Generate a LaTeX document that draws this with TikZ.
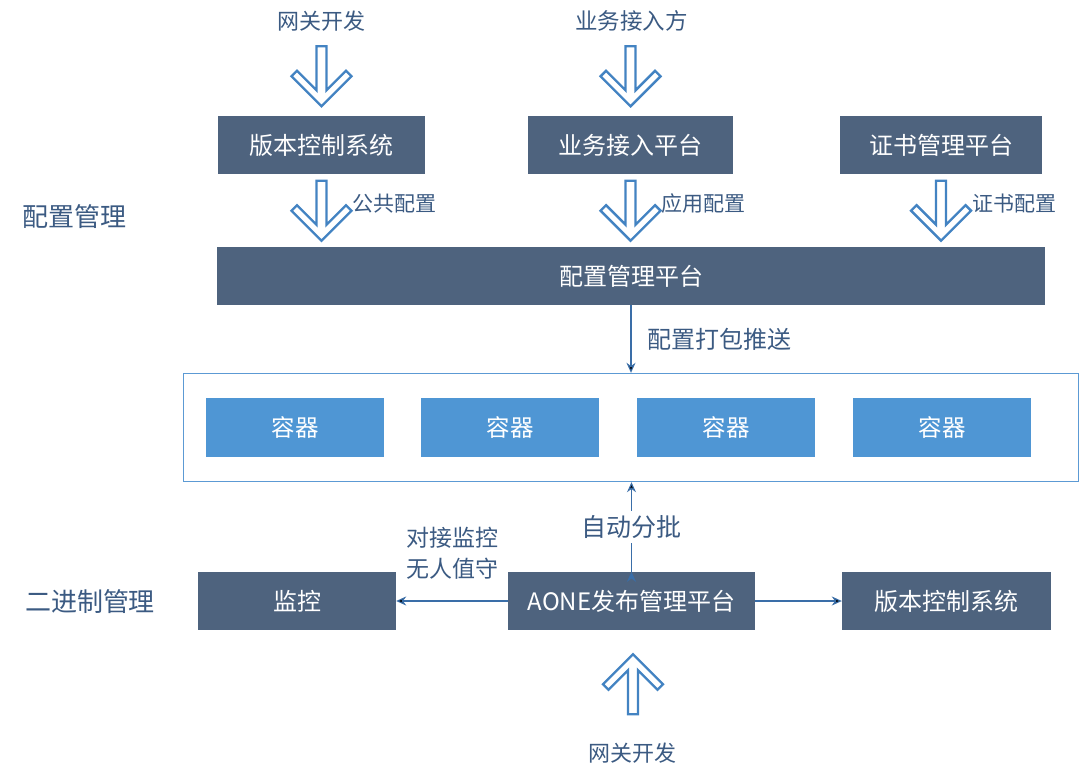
\documentclass[tikz,border=0pt]{standalone}
\usepackage{fontspec}
\setmainfont{Noto Sans CJK SC}
\usetikzlibrary{calc}
\usetikzlibrary{arrows.meta}
\definecolor{platdark}{HTML}{4E637E}
\definecolor{podblue}{HTML}{4F96D4}
\definecolor{frameblue}{HTML}{5C9AD4}
\definecolor{linkblue}{HTML}{3A6EA8}
\definecolor{hollowblue}{HTML}{4383C2}
\definecolor{lbltext}{HTML}{3B5A82}
\tikzset{hollowdown/.pic={
    \draw[draw=hollowblue, line width=2.4pt, line join=miter]
      (-5,-30) -- (-5,14) -- (-24.5,-5.5) -- (-30,0) -- (0,30)
      -- (30,0) -- (24.5,-5.5) -- (5,14) -- (5,-30) -- cycle;}}
\begin{document}
\begin{tikzpicture}[x=1pt,y=-1pt,
    plat/.style={fill=platdark, text=white, inner sep=0pt, minimum height=57pt,
      font=\fontsize{24}{24}\selectfont},
    pod/.style={fill=podblue, text=white, inner sep=0pt, minimum width=178pt,
      minimum height=59pt, font=\fontsize{23.5}{23.5}\selectfont},
    lbl/.style={text=lbltext, inner sep=0pt, font=\fontsize{22}{22}\selectfont},
    small/.style={font=\fontsize{21}{21}\selectfont},
    link/.style={draw=linkblue, line width=1.1pt, -{Stealth[length=10pt,width=9pt]}}]
  \useasboundingbox (0,0) rectangle (1080,776);

  % top row
  \node[plat, minimum width=207pt] (vcsTop) at (321.5,145) {版本控制系统};
  \node[plat, minimum width=205pt] (bizPlat) at (630.5,145) {业务接入平台};
  \node[plat, minimum width=202pt] (certPlat) at (941,145) {证书管理平台};
  \node[plat, minimum width=828pt, minimum height=58pt] (cfgPlat) at (631,276) {配置管理平台};

  \node[lbl] (gwTop) at ($(vcsTop.north)+(0,-95)$) {网关开发};
  \node[lbl, font=\fontsize{22.5}{22.5}\selectfont] (bizSrc) at ($(bizPlat.north)+(1,-95)$) {业务接入方};
  \foreach \n in {vcsTop,bizPlat}
    \pic at ($(\n.north)+(0,-40)$) {hollowdown};

  \foreach \n/\t in {vcsTop/公共配置,bizPlat/应用配置,certPlat/证书配置}{
    \pic at ($(\n.south)+(0,37)$) {hollowdown};
    \node[lbl, small, anchor=west] (\n-cfg) at ($(\n.south)+(31,30)$) {\t};
  }

  \node[lbl, font=\fontsize{26}{26}\selectfont] (cfgMgmt) at (75,217) {配置管理};

  % containers
  \node[draw=frameblue, line width=1.4pt, minimum width=895pt, minimum height=108pt] (frame) at (631,427.5) {};
  \foreach \i/\x in {1/295,2/510,3/726,4/942}
    \node[pod] (pod-\i) at (\x,427.5) {容器};

  \path[link] (cfgPlat) edge node[lbl, right=16pt, font=\fontsize{24}{24}\selectfont] {配置打包推送} (frame);

  % binary row
  \node[plat, minimum width=198pt, minimum height=58pt] (mon) at (297,601) {监控};
  \node[plat, minimum width=247pt, minimum height=58pt] (aone) at (631.5,601) {AONE发布管理平台};
  \node[plat, minimum width=209pt, minimum height=58pt] (vcsBot) at (946.5,601) {版本控制系统};
  \node[lbl, font=\fontsize{26}{26}\selectfont] (binMgmt) at (90,602) {二进制管理};

  \path[link] (aone.north) edge node[lbl, fill=white, inner sep=4pt, font=\fontsize{25}{25}\selectfont] {自动分批} (aone.north |- frame.south);
  \path[link] (aone) edge node[lbl, above=21pt, align=center, font=\fontsize{23}{31}\selectfont] {对接监控\\无人值守} (mon);
  \path[link] (aone) edge (vcsBot);

  \pic[yscale=-1] at ($(aone.south)+(1.5,54)$) {hollowdown};
  \node[lbl] (gwBot) at ($(aone.south)+(1,123)$) {网关开发};
\end{tikzpicture}
\end{document}
